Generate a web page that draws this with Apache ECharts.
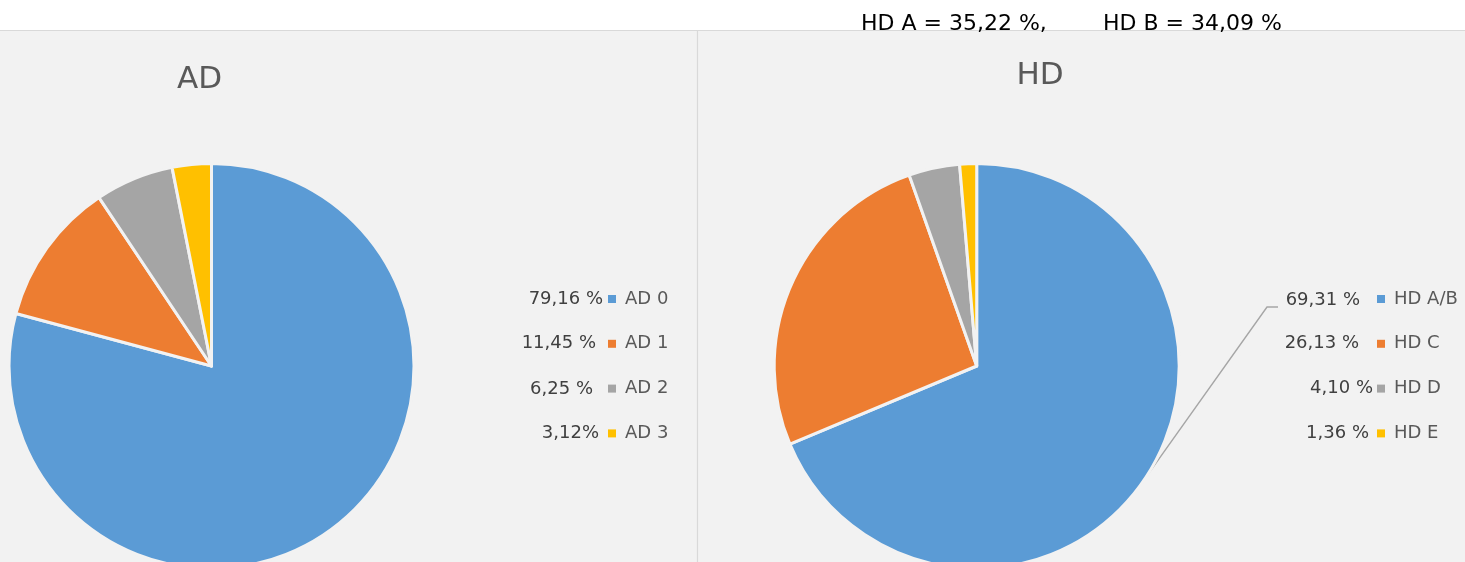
<!DOCTYPE html>
<html><head><meta charset="utf-8">
<script src="https://cdn.jsdelivr.net/npm/echarts/dist/echarts.min.js"></script>
<style>html,body{margin:0;padding:0;background:#fff}#c{width:1465px;height:562px}</style>
</head><body><div id="c"></div>
<script>
// ---- data ----
const adNames = ['AD 0', 'AD 1', 'AD 2', 'AD 3'];
const adValues = [79.16, 11.45, 6.25, 3.12];
const adLabels = ['79,16 %', '11,45 %', '6,25 %', '3,12%'];
const hdNames = ['HD A/B', 'HD C', 'HD D', 'HD E'];
const hdValues = [69.31, 26.13, 4.10, 1.36];
const hdLabels = ['69,31 %', '26,13 %', '4,10 %', '1,36 %'];
const hdNote = ['HD A = 35,22 %,', 'HD B = 34,09 %'];
const titles = ['AD', 'HD'];
const colors = ['#5b9bd5', '#ed7d31', '#a5a5a5', '#ffc000'];

// ---- layout (positions only) ----
const adLabelRight = [603, 596, 593, 599];
const adLabelY = [299, 343, 389, 433];
const hdLabelRight = [1360, 1359, 1373, 1369];
const hdLabelY = [300, 343, 388, 433];
const FONT = 'DejaVu Sans';

const chart = echarts.init(document.getElementById('c'), null, {renderer: 'canvas'});

function pieData(names, values, withLine) {
  return names.map((n, i) => ({
    name: n, value: values[i],
    itemStyle: {color: colors[i]},
    labelLine: {show: withLine && i === 0}
  }));
}

const labelStyle = {color: '#404040', fontFamily: FONT, fontSize: 18};
const legendBase = {
  orient: 'vertical', padding: 0, itemWidth: 8, itemHeight: 8, itemGap: 24.8,
  icon: 'rect', selectedMode: false,
  itemStyle: {borderWidth: 0},
  textStyle: {color: '#595959', fontFamily: FONT, fontSize: 18, lineHeight: 20, padding: [0, 0, 0, 4]}
};

chart.setOption({
  backgroundColor: '#f2f2f2',
  animation: false,
  legend: [
    Object.assign({data: adNames, left: 608, top: 289}, legendBase),
    Object.assign({data: hdNames, left: 1377, top: 289}, legendBase)
  ],
  graphic: [
    {type: 'rect', z: -10, silent: true, shape: {x: 0, y: 0, width: 1465, height: 30}, style: {fill: '#ffffff'}},
    {type: 'line', silent: true, shape: {x1: 0, y1: 30.5, x2: 1465, y2: 30.5}, style: {stroke: '#d9d9d9', lineWidth: 1.2}},
    {type: 'line', silent: true, shape: {x1: 697.5, y1: 30, x2: 697.5, y2: 562}, style: {stroke: '#d9d9d9', lineWidth: 1.2}},
    {type: 'text', silent: true, z: 10, style: {text: titles[0], x: 199.5, y: 80, align: 'center', verticalAlign: 'middle', fill: '#595959', font: '31px "' + FONT + '"'}},
    {type: 'text', silent: true, z: 10, style: {text: titles[1], x: 1040, y: 76, align: 'center', verticalAlign: 'middle', fill: '#595959', font: '31px "' + FONT + '"'}},
    {type: 'text', silent: true, z: 10, style: {text: hdNote[0], x: 861, y: 24, align: 'left', verticalAlign: 'middle', fill: '#000000', font: '22px "' + FONT + '"'}},
    {type: 'text', silent: true, z: 10, style: {text: hdNote[1], x: 1103, y: 24, align: 'left', verticalAlign: 'middle', fill: '#000000', font: '22px "' + FONT + '"'}}
  ],
  series: [
    {
      type: 'pie', name: 'AD', center: [211.5, 366], radius: 202.5, startAngle: 90, clockwise: true,
      silent: true,
      itemStyle: {borderColor: '#f2f2f2', borderWidth: 3},
      label: Object.assign({show: true, position: 'inside', formatter: p => adLabels[p.dataIndex]}, labelStyle),
      labelLine: {show: false},
      labelLayout: p => ({x: adLabelRight[p.dataIndex], y: adLabelY[p.dataIndex], align: 'right', verticalAlign: 'middle'}),
      data: pieData(adNames, adValues, false)
    },
    {
      type: 'pie', name: 'HD', center: [976.7, 366], radius: 202.5, startAngle: 90, clockwise: true,
      silent: true,
      itemStyle: {borderColor: '#f2f2f2', borderWidth: 3},
      label: Object.assign({show: true, position: 'outside', formatter: p => hdLabels[p.dataIndex]}, labelStyle),
      labelLine: {show: true, length: 20, length2: 10, smooth: false, lineStyle: {color: '#a6a6a6', width: 1.4}},
      labelLayout: p => {
        const i = p.dataIndex;
        const o = {x: hdLabelRight[i], y: hdLabelY[i], align: 'right', verticalAlign: 'middle'};
        if (i === 0 && p.labelLinePoints) {
          o.labelLinePoints = [p.labelLinePoints[0], [1267, 307], [1278, 307]];
        }
        return o;
      },
      data: pieData(hdNames, hdValues, true)
    }
  ]
});
</script>
</body></html>
